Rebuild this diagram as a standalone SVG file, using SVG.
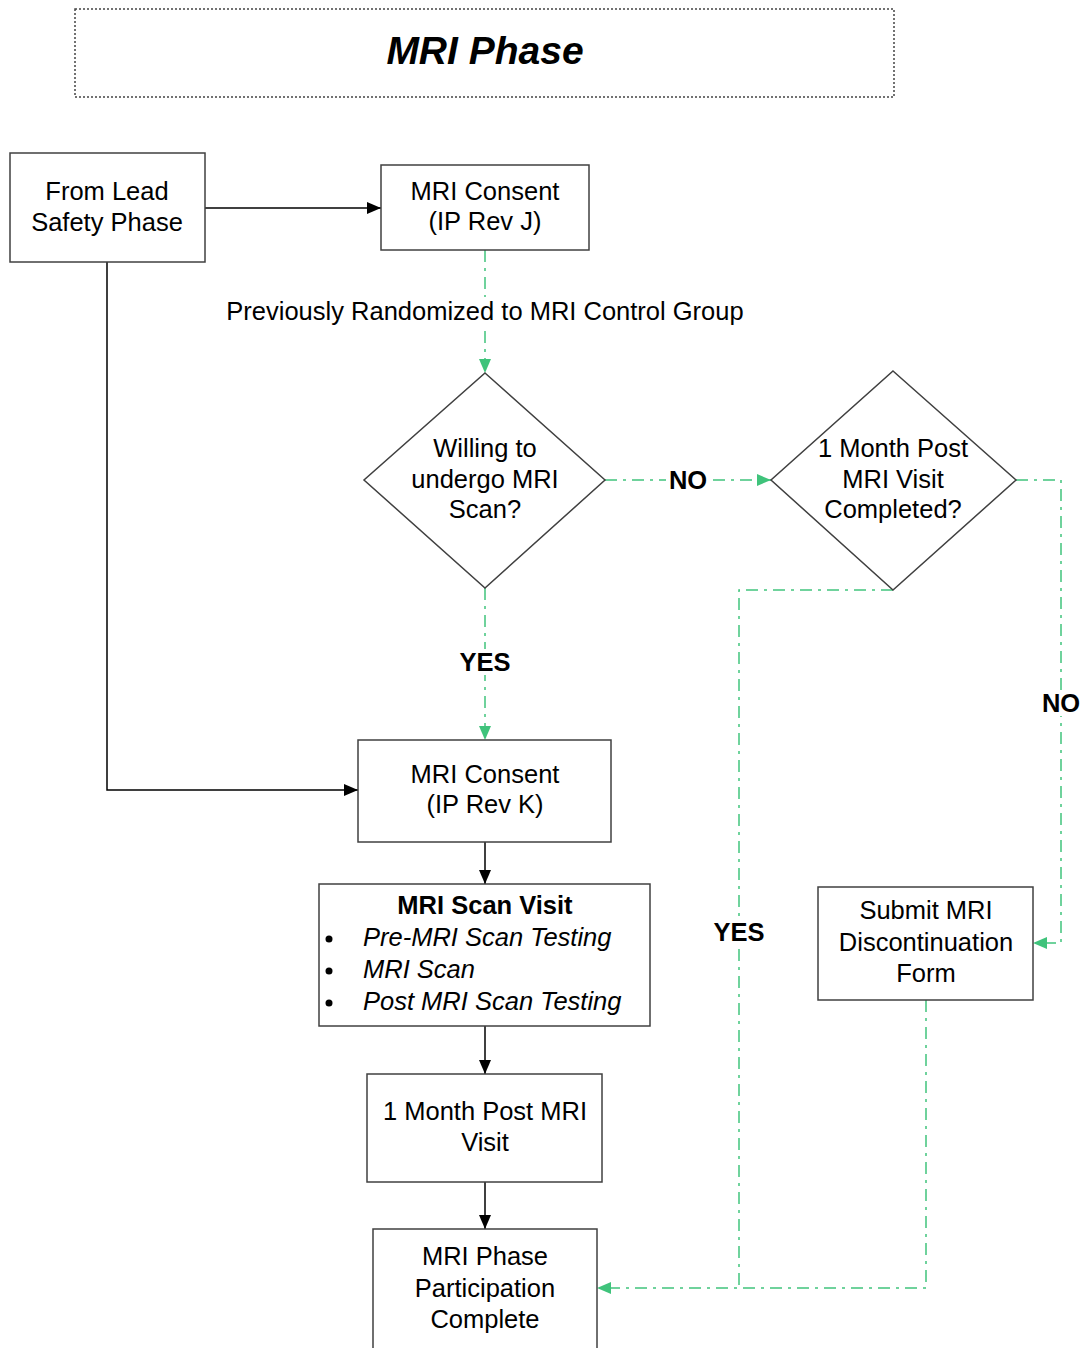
<svg xmlns="http://www.w3.org/2000/svg" width="1083" height="1348" viewBox="0 0 1083 1348">
<defs>
<marker id="ab" markerWidth="14" markerHeight="12" refX="14" refY="6" orient="auto" markerUnits="userSpaceOnUse"><path d="M0,0 L14,6 L0,12 Z" fill="#000"/></marker>
<marker id="ag" markerWidth="14" markerHeight="12" refX="14" refY="6" orient="auto" markerUnits="userSpaceOnUse"><path d="M0,0 L14,6 L0,12 Z" fill="#00b050"/></marker>
</defs>
<style>
text{font-family:"Liberation Sans",Arial,sans-serif;font-size:25.5px;fill:#000;text-anchor:middle}
.box{fill:#fff;stroke:#404040;stroke-width:1.5}
.blk{fill:none;stroke:#000;stroke-width:1.5}
.gd{fill:none;stroke:#00b050;stroke-width:1.5;stroke-dasharray:12,6,3,6;opacity:0.75}
.lbl{font-weight:bold}
</style>
<g id="title">
<rect x="75" y="9" width="819" height="88" fill="#fff" stroke="#444" stroke-width="1.5" stroke-dasharray="2,2"/>
<text x="485" y="64" style="font-size:39px;font-weight:bold;font-style:italic">MRI Phase</text>
</g>
<g id="connectors">
<line class="blk" x1="205" y1="208" x2="381" y2="208" marker-end="url(#ab)"/>
<polyline class="blk" points="107,262 107,790 358,790" marker-end="url(#ab)"/>
<line class="blk" x1="485" y1="842" x2="485" y2="884" marker-end="url(#ab)"/>
<line class="blk" x1="485" y1="1026" x2="485" y2="1074" marker-end="url(#ab)"/>
<line class="blk" x1="485" y1="1182" x2="485" y2="1229" marker-end="url(#ab)"/>
<line class="gd" x1="485" y1="250" x2="485" y2="373" marker-end="url(#ag)"/>
<line class="gd" x1="605" y1="480" x2="771" y2="480" marker-end="url(#ag)"/>
<line class="gd" x1="485" y1="588" x2="485" y2="740" marker-end="url(#ag)"/>
<polyline class="gd" points="893,590 739,590 739,1288"/>
<polyline class="gd" points="1016,480 1061,480 1061,943 1033,943" marker-end="url(#ag)"/>
<polyline class="gd" points="926,1000 926,1288 597,1288" marker-end="url(#ag)"/>
<rect x="222" y="297" width="526" height="28" fill="#fff"/>
<text x="485" y="320">Previously Randomized to MRI Control Group</text>
<rect x="666" y="467" width="44" height="26" fill="#fff"/>
<text class="lbl" x="688" y="489">NO</text>
<rect x="458" y="649" width="54" height="26" fill="#fff"/>
<text class="lbl" x="485" y="671">YES</text>
<rect x="711" y="919" width="56" height="26" fill="#fff"/>
<text class="lbl" x="739" y="941">YES</text>
<rect x="1040" y="690" width="43" height="26" fill="#fff"/>
<text class="lbl" x="1061" y="712">NO</text>
</g>
<g id="from-lead">
<rect class="box" x="10" y="153" width="195" height="109"/>
<text x="107" y="200">From Lead</text>
<text x="107" y="231">Safety Phase</text>
</g>
<g id="consent-j">
<rect class="box" x="381" y="165" width="208" height="85"/>
<text x="485" y="200">MRI Consent</text>
<text x="485" y="230">(IP Rev J)</text>
</g>
<g id="willing">
<polygon class="box" points="485,373 605,480 485,588 364,480"/>
<text x="485" y="457">Willing to</text>
<text x="485" y="488">undergo MRI</text>
<text x="485" y="518">Scan?</text>
</g>
<g id="month-completed">
<polygon class="box" points="893,371 1016,480 893,590 771,480"/>
<text x="893" y="457">1 Month Post</text>
<text x="893" y="488">MRI Visit</text>
<text x="893" y="518">Completed?</text>
</g>
<g id="consent-k">
<rect class="box" x="358" y="740" width="253" height="102"/>
<text x="485" y="783">MRI Consent</text>
<text x="485" y="813">(IP Rev K)</text>
</g>
<g id="scan-visit">
<rect class="box" x="319" y="884" width="331" height="142"/>
<text x="485" y="914" style="font-weight:bold">MRI Scan Visit</text>
<g style="font-style:italic">
<circle cx="329" cy="939" r="3.5"/><text x="363" y="946" style="text-anchor:start">Pre-MRI Scan Testing</text>
<circle cx="329" cy="971" r="3.5"/><text x="363" y="978" style="text-anchor:start">MRI Scan</text>
<circle cx="329" cy="1003" r="3.5"/><text x="363" y="1010" style="text-anchor:start">Post MRI Scan Testing</text>
</g>
</g>
<g id="month-visit">
<rect class="box" x="367" y="1074" width="235" height="108"/>
<text x="485" y="1120">1 Month Post MRI</text>
<text x="485" y="1151">Visit</text>
</g>
<g id="discontinuation">
<rect class="box" x="818" y="887" width="215" height="113"/>
<text x="926" y="919">Submit MRI</text>
<text x="926" y="951">Discontinuation</text>
<text x="926" y="982">Form</text>
</g>
<g id="complete">
<rect class="box" x="373" y="1229" width="224" height="130"/>
<text x="485" y="1265">MRI Phase</text>
<text x="485" y="1297">Participation</text>
<text x="485" y="1328">Complete</text>
</g>
</svg>
